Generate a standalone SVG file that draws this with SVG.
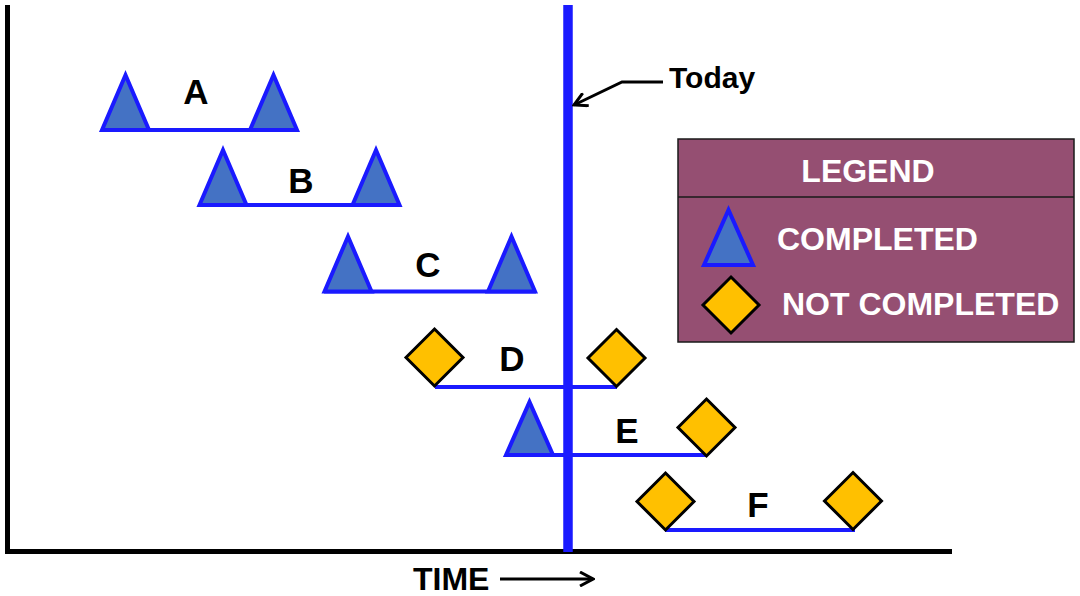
<svg xmlns="http://www.w3.org/2000/svg" xmlns:xlink="http://www.w3.org/1999/xlink" width="1080" height="596" viewBox="0 0 1080 596">
<style>
  .lbl { font-family: "Liberation Sans", Arial, sans-serif; font-weight: bold; fill: #000; }
  .task { font-size: 35px; text-anchor: middle; }
  .leg { font-family: "Liberation Sans", Arial, sans-serif; font-weight: bold; fill: #fff; font-size: 32px; }
  .bar { stroke: #1a1aff; stroke-width: 4; fill: none; }
  .tri { fill: #4472C4; stroke: #1a1aff; stroke-width: 4; stroke-linejoin: miter; }
  .dia { fill: #FFC000; stroke: #000; stroke-width: 3; }
  .axis { stroke: #000; stroke-width: 5; fill: none; }
  .conn { stroke: #000; stroke-width: 3; fill: none; }
</style>
<defs>
  <polygon id="tri" class="tri" points="-23.5,0 0,-55 23.5,0"/>
  <polygon id="dia" class="dia" points="0,-28.5 28.5,0 0,28.5 -28.5,0"/>
  <marker id="open" viewBox="0 0 16 16" refX="14" refY="8" markerWidth="16" markerHeight="16" markerUnits="userSpaceOnUse" orient="auto">
    <path d="M1,1 L14,8 L1,15" fill="none" stroke="#000" stroke-width="3"/>
  </marker>
</defs>
<rect width="1080" height="596" fill="#fff"/>

<g id="axes">
  <polyline class="axis" points="7.5,5 7.5,551.5 952,551.5"/>
</g>

<g id="task-A">
  <line class="bar" x1="102" y1="130" x2="298" y2="130"/>
  <use xlink:href="#tri" x="125.5" y="130"/>
  <use xlink:href="#tri" x="273.5" y="130"/>
  <text class="lbl task" x="196" y="104">A</text>
</g>
<g id="task-B">
  <line class="bar" x1="199" y1="205" x2="400" y2="205"/>
  <use xlink:href="#tri" x="223" y="205"/>
  <use xlink:href="#tri" x="376" y="205"/>
  <text class="lbl task" x="301" y="193">B</text>
</g>
<g id="task-C">
  <line class="bar" x1="324" y1="291.5" x2="536" y2="291.5"/>
  <use xlink:href="#tri" x="348" y="291.5"/>
  <use xlink:href="#tri" x="511.5" y="291.5"/>
  <text class="lbl task" x="428" y="277">C</text>
</g>
<g id="task-D">
  <line class="bar" x1="435" y1="387" x2="617" y2="387"/>
  <use xlink:href="#dia" x="434.5" y="357.5"/>
  <use xlink:href="#dia" x="616.5" y="358"/>
  <text class="lbl task" x="512" y="371">D</text>
</g>
<g id="task-E">
  <line class="bar" x1="506" y1="455" x2="707" y2="455"/>
  <polygon class="tri" points="506,455 529.5,402 553,455"/>
  <use xlink:href="#dia" x="706.5" y="427.5"/>
  <text class="lbl task" x="627" y="443">E</text>
</g>
<g id="task-F">
  <line class="bar" x1="665" y1="530" x2="855" y2="530"/>
  <use xlink:href="#dia" x="665.5" y="501.5"/>
  <use xlink:href="#dia" x="853" y="501"/>
  <text class="lbl task" x="758" y="517">F</text>
</g>

<g id="today-line">
  <line x1="568" y1="5" x2="568" y2="552" stroke="#1a1aff" stroke-width="9.5"/>
</g>

<g id="legend">
  <rect x="678" y="139" width="396" height="203" fill="#954F72" stroke="#1a1a1a" stroke-width="1.5"/>
  <line x1="678" y1="197" x2="1074" y2="197" stroke="#1a1a1a" stroke-width="1.5"/>
  <text class="leg" x="868" y="182" text-anchor="middle">LEGEND</text>
  <polygon class="tri" points="704,265 728.5,210 753,265"/>
  <text class="leg" x="777" y="250">COMPLETED</text>
  <polygon class="dia" points="731,277 759,305 731,333 703,305"/>
  <text class="leg" x="782" y="315">NOT COMPLETED</text>
</g>

<g id="today-label">
  <text class="lbl" x="669" y="88" font-size="30">Today</text>
</g>
<g id="time-label">
  <text class="lbl" x="413" y="590" font-size="32">TIME</text>
</g>

<g id="connectors">
  <polyline class="conn" points="663,82 622,82 574,105" marker-end="url(#open)"/>
  <line class="conn" x1="500" y1="579" x2="593" y2="579" stroke-width="2.5" marker-end="url(#open)"/>
</g>
</svg>
